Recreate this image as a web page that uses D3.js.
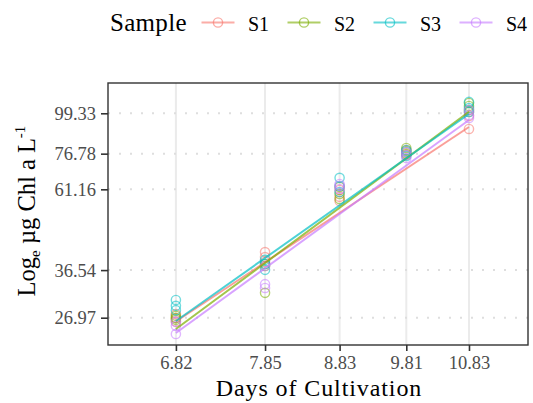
<!DOCTYPE html>
<html>
<head>
<meta charset="utf-8">
<script src="https://cdn.jsdelivr.net/npm/d3@7"></script>
<style>
  html, body { margin: 0; padding: 0; background: #fff; }
  svg text { font-family: "Liberation Serif", "DejaVu Serif", serif; }
</style>
</head>
<body>
<svg id="chart" width="533" height="403"></svg>
<script>
// Cultivation days (log axis) and chlorophyll a replicates per sample
const days = [6.82, 7.85, 8.83, 9.81, 10.83];
const samples = ["S1", "S2", "S3", "S4"];
const yTicks = [26.97, 36.54, 61.16, 76.78, 99.33];

// three replicate readings per day, µg Chl a per litre
const s1 = [[27.6, 26.9, 26.3], [41.0, 39.7, 38.5], [60.9, 58.3, 56.8], [78.6, 77.1, 76.1], [100.2, 97.6, 89.9]];
const s2 = [[27.3, 26.9, 26.6], [38.0, 37.5, 31.6], [62.1, 59.4, 57.5], [79.6, 78.1, 76.6], [106.1, 104.1, 101.4]];
const s3 = [[30.2, 29.1, 28.3], [39.0, 38.0, 36.6], [65.8, 62.5, 60.1], [78.6, 77.6, 75.7], [106.8, 102.7, 100.2]];
const s4 = [[26.3, 25.6, 24.3], [37.5, 33.4, 32.6], [63.3, 62.5, 61.3], [77.6, 76.1, 74.7], [101.4, 98.3, 96.4]];
const sampleValues = [s1, s2, s3, s4];

// growth trend per sample: value on the first and on the last day (S1..S4)
const trendStart = [26.33, 25.10, 26.41, 24.47];
const trendEnd = [91.0, 100.2, 98.9, 95.2];

const colors = ["#F8766D", "#7CAE00", "#00BFC4", "#C77CFF"];

const svg = d3.select("#chart");
const panel = { left: 108, right: 528, top: 83, bottom: 345 };

const x = d3.scaleLog().domain([6.127, 11.887]).range([panel.left, panel.right]);
const y = d3.scaleLog().domain([22.66, 120.5]).range([panel.bottom, panel.top]);

// grid: solid verticals at each day, dotted horizontals at each y tick
const grid = svg.append("g");
grid.selectAll("line.vx").data(days).join("line")
  .attr("x1", d => x(d)).attr("x2", d => x(d))
  .attr("y1", panel.top).attr("y2", panel.bottom)
  .attr("stroke", "#EBEBEB").attr("stroke-width", 2);
grid.selectAll("line.hy").data(yTicks).join("line")
  .attr("x1", panel.left).attr("x2", panel.right)
  .attr("y1", d => y(d)).attr("y2", d => y(d))
  .attr("stroke", "#DEDEDE").attr("stroke-width", 2)
  .attr("stroke-dasharray", "2,9");

// long-format points
const points = [];
sampleValues.forEach((vals, si) => {
  vals.forEach((reps, di) => reps.forEach(v => points.push({ s: si, day: days[di], v })));
});

// replicate points
svg.append("g").selectAll("circle").data(points).join("circle")
  .attr("cx", d => x(d.day)).attr("cy", d => y(d.v)).attr("r", 4.6)
  .attr("fill", "none").attr("stroke", d => colors[d.s])
  .attr("stroke-width", 1.4).attr("stroke-opacity", 0.55);

// trend lines from the first to the last day
const dayExtent = d3.extent(days);
svg.append("g").selectAll("line").data(samples).join("line")
  .attr("x1", x(dayExtent[0])).attr("y1", (d, i) => y(trendStart[i]))
  .attr("x2", x(dayExtent[1])).attr("y2", (d, i) => y(trendEnd[i]))
  .attr("stroke", (d, i) => colors[i]).attr("stroke-width", 2).attr("stroke-opacity", 0.7);

// panel border
svg.append("rect")
  .attr("x", panel.left).attr("y", panel.top)
  .attr("width", panel.right - panel.left).attr("height", panel.bottom - panel.top)
  .attr("fill", "none").attr("stroke", "#333").attr("stroke-width", 1.4);

// axes
const xAxis = svg.append("g").attr("transform", `translate(0,${panel.bottom})`)
  .call(d3.axisBottom(x).tickValues(days).tickFormat(d3.format(".2f")).tickSizeOuter(0).tickSize(6).tickPadding(5));
const yAxis = svg.append("g").attr("transform", `translate(${panel.left},0)`)
  .call(d3.axisLeft(y).tickValues(yTicks).tickFormat(d3.format(".2f")).tickSizeOuter(0).tickSize(7).tickPadding(5));
[xAxis, yAxis].forEach(g => {
  g.select(".domain").remove();
  g.selectAll(".tick line").attr("stroke", "#333").attr("stroke-width", 1.6);
  g.selectAll(".tick text").attr("fill", "#4D4D4D").attr("font-size", 18.5)
    .attr("font-family", "Liberation Serif, serif");
});

// axis titles
svg.append("text").attr("x", (panel.left + panel.right) / 2 + 1).attr("y", 395.5)
  .attr("text-anchor", "middle").attr("font-size", 24).attr("letter-spacing", 0.9)
  .attr("fill", "#000").text("Days of Cultivation");

const yTitle = svg.append("text")
  .attr("transform", `translate(35,${(panel.top + panel.bottom) / 2 - 3}) rotate(-90)`)
  .attr("text-anchor", "middle").attr("font-size", 24.5).attr("fill", "#000");
yTitle.append("tspan").text("Log");
yTitle.append("tspan").attr("font-size", 15).attr("dy", 5).text("e");
yTitle.append("tspan").attr("dy", -5).text(" µg Chl a L");
yTitle.append("tspan").attr("font-size", 15).attr("dy", -10).text("-1");

// legend
const legend = svg.append("g");
legend.append("text").attr("x", 110).attr("y", 31).attr("font-size", 25).attr("letter-spacing", 0.3)
  .attr("fill", "#000").text("Sample");
const keys = legend.selectAll("g.key").data(samples).join("g")
  .attr("transform", (d, i) => `translate(${218 + i * 86},22.5)`);
keys.append("line").attr("x1", -16.5).attr("x2", 16.5)
  .attr("stroke", (d, i) => colors[i]).attr("stroke-width", 2).attr("stroke-opacity", 0.6);
keys.append("circle").attr("r", 4.6).attr("fill", "none")
  .attr("stroke", (d, i) => colors[i]).attr("stroke-width", 1.4).attr("stroke-opacity", 0.6);
keys.append("text").attr("x", 30).attr("y", 8.5).attr("font-size", 20).attr("fill", "#000").text(d => d);
</script>
</body>
</html>
